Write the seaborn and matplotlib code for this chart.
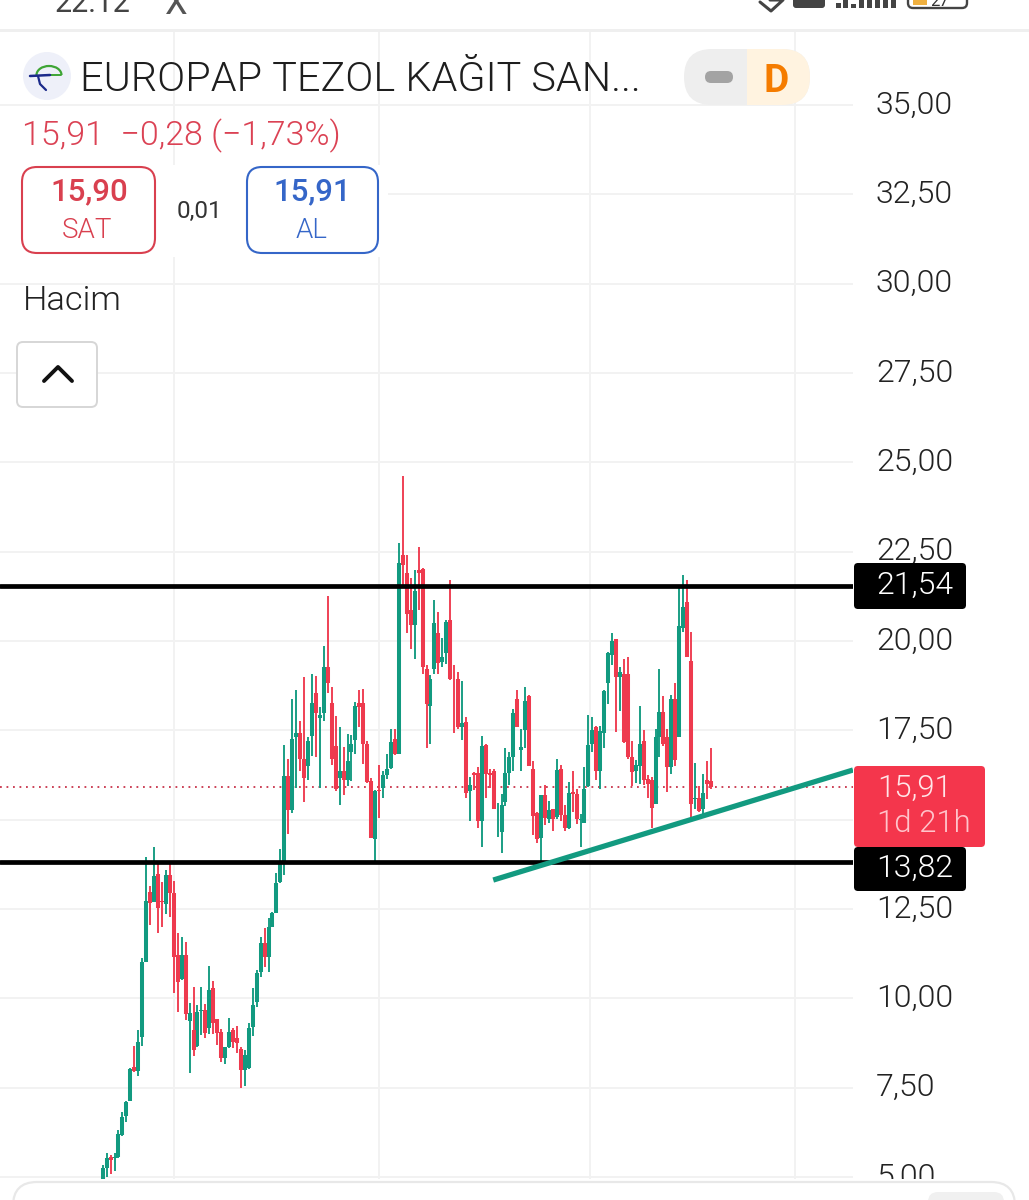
import numpy as np
import pandas as pd
import matplotlib
matplotlib.use("Agg")
import matplotlib.pyplot as plt
import seaborn as sns
from matplotlib.patches import FancyBboxPatch, Rectangle, Circle, Arc
from matplotlib.transforms import ScaledTranslation

# daily candles
opens = [
    4.91, 5.24, 5.55, 5.52, 5.55, 6.17, 6.70, 7.13, 8.09, 7.97,
    8.92, 11.01, 12.98, 12.70, 13.47, 12.72, 12.64, 13.45, 12.94, 11.21,
    10.54, 11.21, 9.37, 9.11, 8.66, 9.64, 9.67, 9.16, 10.28, 9.41,
    9.07, 8.32, 8.63, 9.11, 8.88, 8.58, 7.99, 8.04, 9.21, 9.91,
    10.74, 11.54, 11.15, 11.99, 12.40, 13.25, 13.78, 16.22, 15.27, 17.32,
    17.43, 16.69, 16.50, 17.34, 18.55, 17.84, 17.99, 19.26, 18.27, 17.06,
    16.16, 16.37, 16.11, 16.90, 17.23, 18.27, 18.27, 17.13, 16.09, 14.45,
    15.83, 15.88, 16.25, 16.44, 17.27, 16.85, 22.41, 21.89, 20.87, 20.45,
    22.00, 22.02, 19.23, 18.18, 19.23, 20.21, 19.42, 19.67, 20.59, 18.95,
    18.93, 17.58, 17.74, 15.81, 16.30, 16.30, 14.97, 17.09, 16.31, 16.37,
    15.29, 14.66, 15.50, 16.31, 16.74, 18.38, 16.95, 17.51, 18.47, 16.43,
    15.20, 14.48, 15.69, 15.03, 15.29, 15.08, 16.43, 15.13, 14.76, 15.78,
    15.73, 14.99, 14.91, 15.94, 17.13, 17.60, 16.37, 17.43, 18.83, 19.61,
    20.05, 19.00, 19.09, 19.08, 16.76, 16.37, 16.50, 17.20, 16.15, 16.11,
    15.44, 17.32, 18.00, 17.32, 16.48, 18.38, 17.30, 20.35, 21.10, 19.44,
    15.57, 15.60, 15.31, 16.11, 16.09,
]
closes = [
    5.24, 5.52, 5.47, 5.55, 6.20, 6.67, 7.11, 8.01, 7.97, 8.79,
    11.01, 12.72, 12.68, 13.42, 12.54, 12.69, 13.45, 12.94, 11.16, 10.46,
    11.21, 9.55, 9.60, 8.55, 9.63, 9.67, 9.02, 10.23, 9.32, 9.02,
    8.32, 8.63, 9.05, 8.79, 8.74, 7.99, 8.41, 9.18, 9.81, 10.72,
    11.54, 11.15, 11.99, 12.40, 13.24, 13.78, 16.22, 15.27, 17.25, 17.43,
    16.69, 16.16, 17.21, 18.27, 17.99, 17.93, 19.26, 18.83, 16.71, 15.85,
    16.37, 16.11, 16.65, 17.12, 18.18, 18.14, 17.12, 16.06, 14.50, 15.81,
    15.81, 16.25, 16.43, 17.18, 16.85, 22.17, 22.13, 20.75, 20.45, 21.41,
    21.89, 19.28, 18.24, 18.93, 20.49, 19.39, 19.54, 20.54, 18.93, 18.93,
    17.60, 17.71, 15.74, 15.97, 16.25, 14.97, 17.07, 16.28, 16.25, 15.29,
    15.31, 15.41, 16.30, 16.74, 17.99, 17.60, 17.04, 18.33, 16.51, 15.10,
    14.45, 15.68, 15.06, 15.27, 15.03, 16.39, 15.13, 14.76, 15.76, 15.73,
    15.03, 15.03, 15.87, 17.09, 17.51, 16.37, 17.49, 18.61, 19.67, 20.01,
    18.98, 19.14, 17.18, 16.74, 16.34, 16.53, 17.11, 16.11, 15.99, 15.32,
    17.32, 18.00, 17.13, 16.48, 18.38, 16.67, 20.43, 20.96, 19.56, 15.45,
    15.60, 15.25, 15.75, 15.99, 15.91,
]
highs = [
    5.33, 5.68, 5.61, 5.68, 6.31, 6.83, 7.13, 8.04, 8.67, 9.11,
    11.12, 13.96, 13.14, 14.24, 13.82, 13.26, 13.59, 13.85, 13.28, 11.84,
    11.72, 11.58, 9.86, 10.32, 9.81, 10.32, 9.84, 10.90, 10.48, 9.41,
    9.14, 8.65, 9.44, 9.16, 9.22, 8.63, 8.55, 9.30, 10.28, 10.79,
    11.72, 11.98, 12.24, 12.42, 13.50, 14.17, 17.09, 16.69, 18.37, 18.63,
    17.77, 19.00, 17.30, 19.09, 19.02, 18.14, 19.87, 21.26, 18.70, 17.90,
    17.60, 17.04, 17.39, 17.37, 18.29, 18.63, 18.67, 17.21, 16.16, 15.83,
    16.53, 16.37, 16.85, 17.53, 17.55, 22.75, 24.63, 22.41, 21.75, 21.99,
    22.62, 22.03, 19.33, 19.05, 21.15, 20.82, 20.09, 20.60, 21.71, 19.33,
    19.14, 18.89, 17.86, 16.20, 16.34, 16.48, 17.34, 17.12, 16.42, 16.43,
    15.46, 15.73, 17.00, 16.88, 18.09, 18.63, 17.54, 18.72, 18.49, 16.64,
    15.22, 15.69, 15.97, 15.53, 15.29, 16.69, 16.53, 15.41, 16.06, 16.36,
    15.85, 15.17, 16.46, 17.93, 17.86, 17.63, 17.62, 18.63, 19.70, 20.21,
    20.07, 19.26, 19.49, 19.56, 17.20, 16.67, 18.19, 17.51, 16.25, 16.20,
    17.53, 19.23, 18.46, 17.53, 18.49, 18.83, 21.47, 21.85, 21.71, 20.26,
    16.58, 15.95, 16.27, 16.64, 17.01,
]
lows = [
    4.85, 5.01, 5.08, 5.17, 5.53, 6.14, 6.55, 7.13, 7.95, 7.83,
    8.66, 11.01, 12.05, 12.70, 11.82, 12.00, 12.36, 12.27, 10.16, 9.63,
    10.51, 9.39, 7.92, 8.39, 8.65, 8.97, 8.88, 9.00, 9.00, 8.69,
    8.21, 8.15, 8.60, 8.60, 8.48, 7.48, 7.54, 8.01, 8.94, 9.77,
    10.60, 10.88, 10.74, 11.99, 12.40, 13.24, 13.45, 14.61, 15.19, 15.88,
    16.37, 15.50, 16.11, 16.78, 16.76, 15.88, 17.77, 18.55, 16.53, 15.81,
    15.41, 15.69, 15.94, 16.09, 16.85, 17.58, 16.56, 16.02, 14.50, 13.78,
    15.04, 15.60, 16.15, 16.41, 16.81, 16.84, 21.52, 20.23, 19.79, 19.51,
    20.87, 19.08, 17.01, 17.13, 19.08, 19.09, 19.28, 19.37, 18.91, 17.43,
    17.53, 17.23, 15.61, 14.97, 15.83, 14.76, 14.24, 15.60, 15.88, 15.29,
    14.52, 14.07, 15.38, 15.97, 16.37, 17.60, 16.37, 17.00, 16.50, 14.57,
    14.36, 13.78, 14.85, 14.90, 14.69, 15.03, 14.97, 14.69, 14.73, 15.22,
    14.88, 14.24, 14.90, 15.92, 16.90, 16.11, 15.87, 17.00, 18.25, 19.33,
    17.46, 18.05, 17.15, 16.71, 15.94, 16.02, 16.00, 15.97, 15.62, 14.77,
    15.44, 16.76, 17.06, 15.78, 16.28, 16.50, 17.30, 20.26, 19.54, 15.06,
    15.29, 15.22, 15.16, 15.57, 15.87,
]

price_ticks = [5, 7.5, 10, 12.5, 15, 17.5, 20, 22.5, 25, 27.5, 30, 32.5, 35]
price_labels = ["5,00", "7,50", "10,00", "12,50", "15,00", "17,50", "20,00",
                "22,50", "25,00", "27,50", "30,00", "32,50", "35,00"]
time_ticks = [18, 70, 123.3, 175.3]

resistance = 21.54
support = 13.82
last_price = 15.91
trend_x = [98.9, 190]
trend_y = [13.31, 16.39]

GREEN = "#129A80"
RED = "#EE3A4E"
FONT = "Roboto"

sns.set_theme(style="white")
plt.rcParams["font.family"] = [FONT, "DejaVu Sans"]

fig = plt.figure(figsize=(10.29, 12), dpi=100)
ax = fig.add_axes([0, 0, 853 / 1029, 1170 / 1200])

candles = pd.DataFrame({"candle": np.arange(len(closes)), "open": opens, "close": closes,
                        "high": highs, "low": lows})
candles["side"] = np.where(candles["close"] >= candles["open"], "up", "down")
wicks = candles.melt(id_vars=["candle", "side"], value_vars=["high", "low"], value_name="price")
bodies = candles.melt(id_vars=["candle", "side"], value_vars=["open", "close"], value_name="price")
palette = {"up": GREEN, "down": RED}

sns.lineplot(data=wicks, x="candle", y="price", hue="side", units="candle", estimator=None,
             palette=palette, linewidth=1.35, legend=False, ax=ax, solid_capstyle="butt", zorder=3)
sns.lineplot(data=bodies, x="candle", y="price", hue="side", units="candle", estimator=None,
             palette=palette, linewidth=2.9, legend=False, ax=ax, solid_capstyle="butt", zorder=3)

ax.axhline(resistance, color="black", linewidth=3.4, zorder=4)
ax.axhline(support, color="black", linewidth=3.4, zorder=4)
ax.axhline(last_price, color="#C8334A", linewidth=1.3, linestyle=(0, (1, 2.6)), zorder=2)
sns.lineplot(x=trend_x, y=trend_y, color=GREEN, linewidth=3.8, ax=ax, zorder=5, solid_capstyle="butt")

ax.set_xlim(-26, 190)
ax.set_ylim(5 - (1200 - 1177) / 35.73, 35 + (105 - 30) / 35.73)
ax.set_xticks(time_ticks)
ax.set_xticklabels([])
ax.set_yticks(price_ticks)
ax.set_yticklabels(price_labels, fontsize=23, fontweight=300, color="#222222")
ax.yaxis.tick_right()
ax.tick_params(axis="both", length=0)
ax.tick_params(axis="y", pad=16.5)
ax.grid(True, color="#F2F2F2", linewidth=1.4)
ax.set_axisbelow(True)
ax.set_xlabel("")
ax.set_ylabel("")
for s in ax.spines.values():
    s.set_visible(False)
# labels sit a little above their grid line
for t in ax.get_yticklabels():
    t.set_transform(t.get_transform() + ScaledTranslation(0, 0.03, fig.dpi_scale_trans))

# everything around the chart is drawn in picture pixels on a top layer
ui = fig.add_axes([0, 0, 1, 1], zorder=10)
ui.set_xlim(0, 1029)
ui.set_ylim(1200, 0)
ui.axis("off")
ui.patch.set_alpha(0)


def box(x0, y0, x1, y1, r=8, fc="white", ec="none", lw=1.0, z=2):
    p = FancyBboxPatch((x0 + r, y0 + r), x1 - x0 - 2 * r, y1 - y0 - 2 * r,
                       boxstyle=f"round,pad={r},rounding_size={r}", fc=fc, ec=ec, lw=lw, zorder=z)
    ui.add_patch(p)


def label(x, y, s, size, color="#222222", weight=400, ha="left"):
    ui.text(x, y, s, fontsize=size, color=color, fontweight=weight, ha=ha, va="center_baseline",
            zorder=6, clip_on=False)


# status bar
ui.add_patch(Rectangle((0, 0), 1029, 29, fc="white", ec="none", zorder=1))
ui.add_patch(Rectangle((0, 29), 1029, 3, fc="#EFEFEF", ec="none", zorder=1))
label(55, 0, "22:12", 22, color="#444444")
label(165, 0, "X", 26, color="#555555")
box(793, -12, 825, 8, r=3, fc="#444444", z=3)
for x0, h in [(836, 5), (843, 8), (851, 4), (859, 8), (867, 8), (875, 8), (883, 8), (891, 8)]:
    ui.add_patch(Rectangle((x0, 8 - h), 5, h, fc="#444444", ec="none", zorder=3))
ui.plot([760, 771, 783, 770], [2, 11, 0, 0], color="#444444", lw=2.2, zorder=3)
box(908, -12, 967, 8, r=5, fc="white", ec="#444444", lw=1.7, z=3)
ui.add_patch(Rectangle((913, 0), 14, 5, fc="#EFB040", ec="none", zorder=4))
label(930, 0, "27", 12, color="#333333")

# white backing behind the price buttons, the grid stops there
ui.add_patch(Rectangle((0, 165), 388, 92, fc="white", ec="none", zorder=1))

# logo
ui.add_patch(Circle((47, 76), 24, fc="#EEF0F9", ec="none", zorder=2))
ui.add_patch(Arc((49, 75), 25, 18, theta1=180, theta2=360, ec="#3EA535", lw=1.6, zorder=3))
ui.plot([61, 48], [75, 75], color="#3EA535", lw=1.4, zorder=3)
ui.plot([30, 50], [76, 75], color="#1B2A8A", lw=1.8, zorder=3)
ui.plot([38, 40, 46], [76, 84, 90], color="#1B2A8A", lw=1.6, zorder=3)

label(80, 76, "EUROPAP TEZOL KAĞIT SAN...", 29.8, color="#1E1E1E", weight=300)

# session pill
box(684, 49, 810, 105, r=28, fc="#EEEEEE")
box(747, 49, 810, 105, r=28, fc="#FFF3E0", z=3)
ui.add_patch(Rectangle((747, 49), 28, 56, fc="#FFF3E0", ec="none", zorder=3))
box(705, 71, 733, 83, r=6, fc="#A3A3A3", z=4)
label(776, 77, "D", 28, color="#F57C00", weight=700, ha="center")

label(22, 132, "15,91  −0,28 (−1,73%)", 24.5, color="#DB4254", weight=300)

box(22, 167, 155, 253, r=15, fc="white", ec="#D9404F", lw=1.5)
label(89, 189, "15,90", 22.5, color="#D9404F", weight=500, ha="center")
label(87, 227, "SAT", 20, color="#D9404F", ha="center", weight=300)
label(199, 209, "0,01", 17.5, color="#333333", ha="center")
box(247, 167, 378, 253, r=15, fc="white", ec="#3566C8", lw=1.5)
label(312, 189, "15,91", 22.5, color="#3566C8", weight=500, ha="center")
label(312, 227, "AL", 20, color="#3566C8", ha="center", weight=300)

label(23, 298, "Hacim", 24.8, color="#222222", weight=300)

box(17, 342, 97, 407, r=6, fc="white", ec="#D6D6D6", lw=1.4)
ui.plot([44, 58, 72], [381, 367, 381], color="#111111", lw=2.8, zorder=4, solid_capstyle="round")

# price tags on the right
box(854, 563, 966, 609, r=4, fc="black")
label(876, 582, "21,54", 23, color="white", weight=300)
box(854, 847, 966, 891, r=4, fc="black")
label(876, 865, "13,82", 23, color="white", weight=300)
box(854, 766, 985, 847, r=4, fc="#F4364C", z=3)
label(877, 785, "15,91", 22.4, color="#FFE5E8", weight=300)
label(877, 821, "1d 21h", 22.4, color="#FFC4CB", weight=300)

# card that slides over the bottom of the chart
ui.add_patch(Rectangle((0, 1179), 1029, 21, fc="white", ec="none", zorder=7))
box(13, 1182, 1015, 1260, r=24, fc="white", ec="#E8E8E8", lw=1.6, z=7)
box(928, 1192, 1004, 1230, r=10, fc="#F0F0F0", z=8)

fig.savefig("out.png", dpi=100)
